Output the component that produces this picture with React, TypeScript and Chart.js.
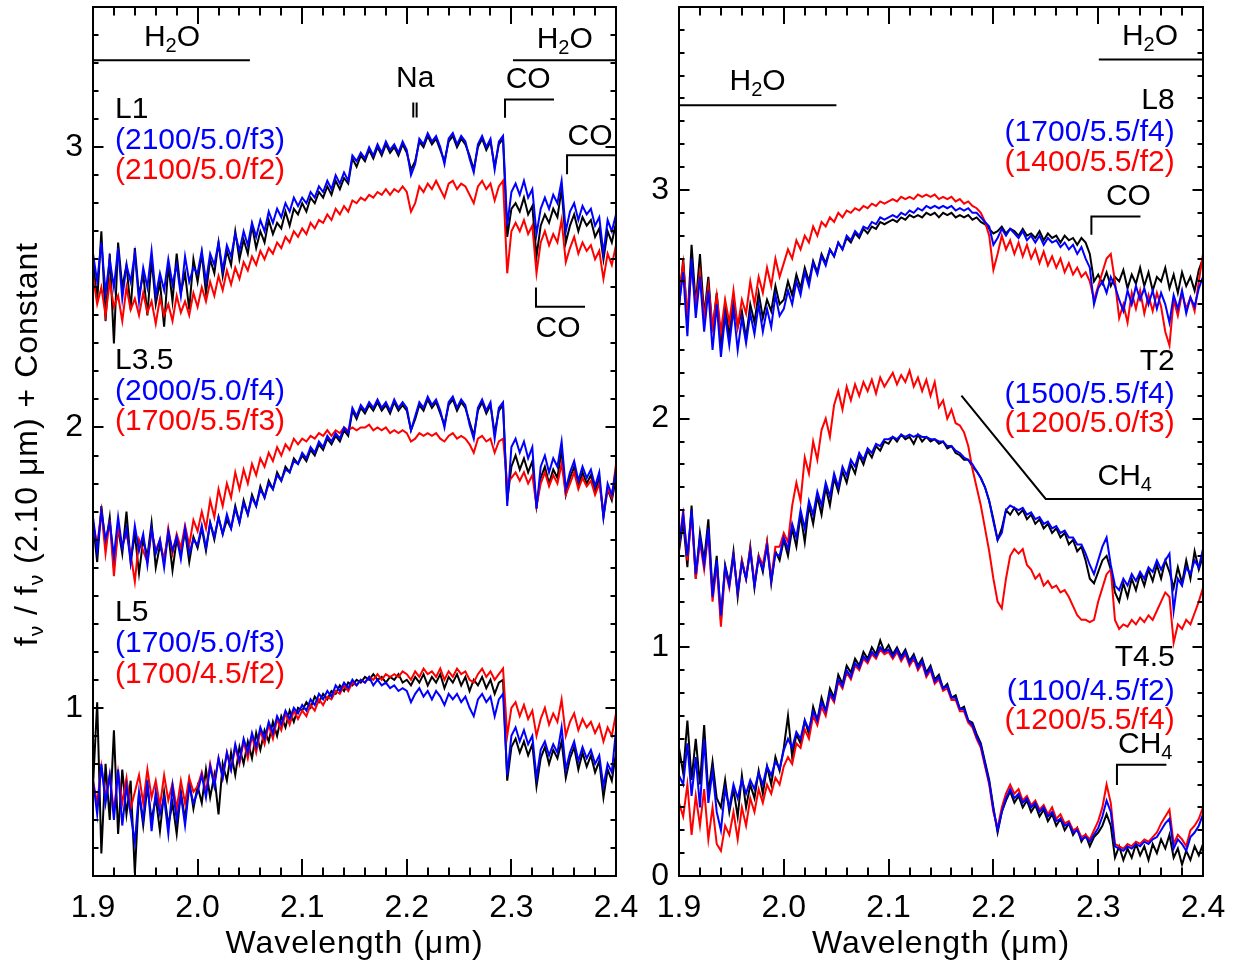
import React, { useEffect, useRef } from "react";
import { Chart, registerables } from "chart.js";
Chart.register(...registerables);

const FONT = "'Liberation Sans', Arial, Helvetica, sans-serif";
const BLACK = "#000000";
const BLUE = "#0000ff";
const RED = "#ff0000";

// Wavelength grid (µm)
const WL = [
  1.900, 1.904, 1.908, 1.912, 1.916, 1.920, 1.924, 1.928, 1.932, 1.936, 1.940, 1.944, 1.948, 1.952, 1.956, 1.960, 1.964, 1.968, 1.972, 1.976, 1.980, 1.984, 1.988, 1.992, 1.996,
  2.000, 2.004, 2.008, 2.012, 2.016, 2.020, 2.024, 2.028, 2.032, 2.036, 2.040, 2.044, 2.048, 2.052, 2.056, 2.060, 2.064, 2.068, 2.072, 2.076, 2.080, 2.084, 2.088, 2.092, 2.096,
  2.100, 2.104, 2.108, 2.112, 2.116, 2.120, 2.124, 2.128, 2.132, 2.136, 2.140, 2.144, 2.148, 2.152, 2.156, 2.160, 2.164, 2.168, 2.172, 2.176, 2.180, 2.184, 2.188, 2.192, 2.196,
  2.200, 2.204, 2.208, 2.212, 2.216, 2.220, 2.224, 2.228, 2.232, 2.236, 2.240, 2.244, 2.248, 2.252, 2.256, 2.260, 2.264, 2.268, 2.272, 2.276, 2.280, 2.284, 2.288, 2.292, 2.296,
  2.300, 2.304, 2.308, 2.312, 2.316, 2.320, 2.324, 2.328, 2.332, 2.336, 2.340, 2.344, 2.348, 2.352, 2.356, 2.360, 2.364, 2.368, 2.372, 2.376, 2.380, 2.384, 2.388, 2.392, 2.396, 2.400,
];

// ---------- Left panel: L1 ----------
const L1_OBS = [
  2.60, 2.45, 2.70, 2.38, 2.62, 2.30, 2.66, 2.50, 2.58, 2.42, 2.64, 2.47, 2.55, 2.40, 2.60, 2.44, 2.52, 2.36, 2.58, 2.45, 2.62, 2.48, 2.55, 2.42, 2.60,
  2.52, 2.62, 2.48, 2.60, 2.55, 2.66, 2.54, 2.63, 2.58, 2.70, 2.60, 2.67, 2.62, 2.72, 2.64, 2.70, 2.66, 2.74, 2.69, 2.73, 2.71, 2.77, 2.72, 2.78, 2.76,
  2.80, 2.77, 2.82, 2.80, 2.84, 2.82, 2.86, 2.83, 2.88, 2.85, 2.89, 2.87, 2.96, 2.93, 2.97, 2.95, 2.99, 2.96, 3.00, 2.97, 3.01, 2.98, 3.00, 2.97, 3.01,
  2.98, 2.92, 2.95, 3.02, 3.00, 3.04, 3.01, 3.03, 2.99, 2.95, 3.02, 3.04, 3.00, 3.03, 3.01, 2.97, 2.92, 3.00, 3.03, 2.99, 3.02, 2.93, 3.01, 3.03, 2.68,
  2.78, 2.80, 2.77, 2.82, 2.76, 2.79, 2.61, 2.72, 2.76, 2.73, 2.78, 2.75, 2.85, 2.66, 2.72, 2.76, 2.70, 2.75, 2.72, 2.74, 2.68, 2.71, 2.60, 2.70, 2.66, 2.73,
];
const L1_BLUE = [
  2.62, 2.52, 2.66, 2.48, 2.60, 2.50, 2.64, 2.46, 2.58, 2.52, 2.62, 2.45, 2.57, 2.50, 2.63, 2.47, 2.55, 2.49, 2.60, 2.51, 2.58, 2.47, 2.61, 2.52, 2.57,
  2.55, 2.63, 2.52, 2.62, 2.58, 2.66, 2.56, 2.65, 2.61, 2.69, 2.63, 2.70, 2.65, 2.73, 2.68, 2.74, 2.70, 2.77, 2.73, 2.78, 2.75, 2.80, 2.77, 2.82, 2.79,
  2.82, 2.80, 2.84, 2.82, 2.86, 2.84, 2.88, 2.85, 2.90, 2.87, 2.91, 2.88, 2.97, 2.95, 2.98, 2.96, 3.00, 2.97, 3.01, 2.98, 3.02, 2.99, 3.01, 2.98, 3.02,
  2.99, 2.90, 2.94, 3.03, 3.01, 3.05, 3.02, 3.04, 3.00, 2.94, 3.03, 3.05, 3.01, 3.04, 3.02, 2.96, 2.91, 3.01, 3.04, 3.00, 3.03, 2.92, 3.02, 3.04, 2.72,
  2.84, 2.87, 2.83, 2.88, 2.82, 2.85, 2.69, 2.78, 2.82, 2.78, 2.83, 2.80, 2.88, 2.70, 2.77, 2.80, 2.74, 2.79, 2.76, 2.78, 2.72, 2.75, 2.62, 2.74, 2.70, 2.76,
];
const L1_RED = [
  2.54, 2.44, 2.50, 2.40, 2.52, 2.43, 2.47, 2.38, 2.50, 2.42, 2.46, 2.40, 2.48, 2.41, 2.45, 2.37, 2.46, 2.40, 2.44, 2.38, 2.47, 2.41, 2.45, 2.40, 2.48,
  2.43, 2.50, 2.45, 2.52, 2.47, 2.54, 2.49, 2.56, 2.51, 2.57, 2.53, 2.59, 2.56, 2.61, 2.58, 2.63, 2.60, 2.64, 2.62, 2.66, 2.64, 2.68, 2.66, 2.70, 2.68,
  2.71, 2.69, 2.73, 2.71, 2.74, 2.73, 2.76, 2.74, 2.78, 2.76, 2.79, 2.77, 2.81, 2.80, 2.82, 2.81, 2.83, 2.82, 2.84, 2.83, 2.85, 2.83, 2.85, 2.84, 2.86,
  2.84, 2.77, 2.80, 2.86, 2.84, 2.87, 2.85, 2.88, 2.85, 2.82, 2.87, 2.88, 2.85, 2.87, 2.86, 2.83, 2.80, 2.86, 2.88, 2.85, 2.87, 2.81, 2.86, 2.88, 2.55,
  2.70, 2.73, 2.70, 2.74, 2.69, 2.72, 2.55, 2.66, 2.70, 2.65, 2.69, 2.66, 2.74, 2.59, 2.64, 2.68, 2.62, 2.66, 2.63, 2.65, 2.60, 2.63, 2.53, 2.62, 2.58, 2.65,
];

// ---------- Left panel: L3.5 ----------
const L35_OBS = [
  1.66, 1.52, 1.72, 1.58, 1.68, 1.50, 1.64, 1.55, 1.70, 1.52, 1.62, 1.48, 1.60, 1.54, 1.66, 1.50, 1.58, 1.53, 1.62, 1.49, 1.60, 1.55, 1.63, 1.52, 1.61,
  1.57, 1.64, 1.56, 1.66, 1.60, 1.68, 1.62, 1.67, 1.64, 1.72, 1.66, 1.74, 1.69, 1.76, 1.72, 1.79, 1.75, 1.81, 1.78, 1.84, 1.81, 1.86, 1.84, 1.89, 1.87,
  1.90, 1.88, 1.92, 1.90, 1.94, 1.92, 1.96, 1.94, 1.97, 1.95, 1.99, 1.97, 2.06, 2.03, 2.07, 2.05, 2.08, 2.06, 2.09, 2.06, 2.08, 2.05, 2.09, 2.06, 2.08,
  2.06, 1.99, 2.03, 2.08, 2.06, 2.10, 2.07, 2.09, 2.05, 2.01, 2.08, 2.10, 2.06, 2.09, 2.07, 2.02, 1.97, 2.06, 2.09, 2.05, 2.08, 1.98, 2.06, 2.08, 1.74,
  1.86, 1.90, 1.85, 1.89, 1.84, 1.88, 1.72, 1.82, 1.86, 1.80, 1.85, 1.82, 1.92, 1.76, 1.82, 1.86, 1.79, 1.84, 1.80, 1.83, 1.77, 1.82, 1.68, 1.78, 1.74, 1.82,
];
const L35_BLUE = [
  1.68, 1.56, 1.70, 1.60, 1.66, 1.54, 1.68, 1.57, 1.64, 1.52, 1.65, 1.56, 1.62, 1.51, 1.64, 1.55, 1.60, 1.50, 1.63, 1.56, 1.61, 1.53, 1.64, 1.55, 1.60,
  1.58, 1.65, 1.57, 1.66, 1.61, 1.68, 1.62, 1.69, 1.64, 1.71, 1.66, 1.73, 1.69, 1.75, 1.72, 1.78, 1.75, 1.80, 1.78, 1.83, 1.81, 1.85, 1.84, 1.88, 1.87,
  1.91, 1.89, 1.93, 1.91, 1.95, 1.93, 1.97, 1.95, 1.98, 1.96, 2.00, 1.98, 2.07, 2.04, 2.08, 2.06, 2.09, 2.07, 2.10, 2.07, 2.09, 2.06, 2.10, 2.07, 2.09,
  2.07, 1.99, 2.04, 2.09, 2.07, 2.11, 2.08, 2.10, 2.06, 2.00, 2.09, 2.11, 2.07, 2.10, 2.08, 2.01, 1.96, 2.07, 2.10, 2.06, 2.09, 1.96, 2.07, 2.09, 1.72,
  1.93, 1.96, 1.91, 1.95, 1.89, 1.93, 1.71, 1.86, 1.90, 1.84, 1.89, 1.86, 1.95, 1.78, 1.84, 1.88, 1.81, 1.86, 1.82, 1.85, 1.79, 1.84, 1.68, 1.80, 1.76, 1.85,
];
const L35_RED = [
  1.66, 1.58, 1.70, 1.55, 1.67, 1.47, 1.64, 1.58, 1.62, 1.55, 1.45, 1.60, 1.56, 1.52, 1.63, 1.56, 1.60, 1.52, 1.64, 1.55, 1.62, 1.57, 1.65, 1.58, 1.67,
  1.63, 1.70, 1.64, 1.74, 1.68, 1.78, 1.72, 1.80, 1.75, 1.84, 1.78, 1.85, 1.80, 1.87, 1.83, 1.89, 1.86, 1.91, 1.88, 1.93, 1.90, 1.94, 1.92, 1.96, 1.94,
  1.96, 1.95, 1.97, 1.96, 1.98, 1.97, 1.99, 1.97, 1.99, 1.98, 2.00, 1.99, 2.00, 1.99, 2.00, 2.00, 2.01, 1.99, 2.00, 1.99, 2.00, 1.98, 1.99, 1.98, 1.99,
  1.98, 1.95, 1.96, 1.98, 1.97, 1.98, 1.97, 1.98, 1.96, 1.95, 1.97, 1.98, 1.96, 1.97, 1.96, 1.94, 1.91, 1.96, 1.97, 1.95, 1.96, 1.91, 1.95, 1.96, 1.80,
  1.82, 1.84, 1.81, 1.84, 1.80, 1.83, 1.72, 1.80, 1.84, 1.79, 1.83, 1.80, 1.87, 1.76, 1.80, 1.84, 1.78, 1.82, 1.79, 1.81, 1.76, 1.80, 1.70, 1.78, 1.75, 1.87,
];

// ---------- Left panel: L5 ----------
const L5_OBS = [
  0.72, 1.02, 0.48, 0.80, 0.60, 0.92, 0.55, 0.78, 0.62, 0.74, 0.41, 0.70, 0.58, 0.72, 0.60, 0.68, 0.56, 0.70, 0.58, 0.66, 0.55, 0.70, 0.60, 0.74, 0.64,
  0.72, 0.66, 0.78, 0.68, 0.76, 0.62, 0.80, 0.74, 0.84, 0.76, 0.86, 0.80, 0.88, 0.82, 0.91, 0.85, 0.92, 0.88, 0.95, 0.90, 0.97, 0.93, 0.99, 0.95, 1.00,
  0.99, 1.02, 1.00, 1.04, 1.02, 1.05, 1.03, 1.06, 1.05, 1.08, 1.06, 1.09, 1.08, 1.10, 1.09, 1.11, 1.10, 1.12, 1.10, 1.11, 1.09, 1.11, 1.10, 1.12, 1.09,
  1.10, 1.08, 1.11, 1.09, 1.12, 1.08, 1.11, 1.09, 1.12, 1.07, 1.11, 1.09, 1.12, 1.08, 1.11, 1.06, 1.10, 1.08, 1.11, 1.07, 1.10, 1.05, 1.09, 1.10, 0.74,
  0.86, 0.89, 0.84, 0.88, 0.83, 0.87, 0.72, 0.82, 0.86, 0.80, 0.85, 0.82, 0.88, 0.75, 0.82, 0.86, 0.78, 0.84, 0.79, 0.83, 0.77, 0.81, 0.68, 0.78, 0.74, 0.84,
];
const L5_BLUE = [
  0.74, 0.62, 0.80, 0.66, 0.76, 0.60, 0.78, 0.58, 0.72, 0.62, 0.52, 0.70, 0.60, 0.74, 0.56, 0.70, 0.62, 0.68, 0.55, 0.72, 0.60, 0.69, 0.58, 0.72, 0.66,
  0.70, 0.76, 0.68, 0.79, 0.72, 0.82, 0.75, 0.84, 0.78, 0.87, 0.81, 0.89, 0.84, 0.91, 0.86, 0.93, 0.89, 0.95, 0.91, 0.97, 0.94, 0.99, 0.96, 1.00, 0.98,
  1.01, 0.99, 1.03, 1.01, 1.05, 1.03, 1.06, 1.04, 1.08, 1.06, 1.09, 1.07, 1.10, 1.08, 1.10, 1.09, 1.11, 1.08, 1.10, 1.08, 1.09, 1.07, 1.08, 1.06, 1.07,
  1.06, 1.02, 1.05, 1.07, 1.04, 1.06, 1.03, 1.06, 1.04, 1.01, 1.05, 1.03, 1.05, 1.02, 1.04, 1.00, 0.97, 1.03, 1.05, 1.02, 1.04, 0.97, 1.03, 1.05, 0.76,
  0.90, 0.93, 0.88, 0.92, 0.87, 0.90, 0.75, 0.85, 0.88, 0.83, 0.87, 0.84, 0.93, 0.78, 0.84, 0.88, 0.81, 0.86, 0.82, 0.85, 0.80, 0.83, 0.72, 0.80, 0.77, 0.92,
];
const L5_RED = [
  0.74, 0.66, 0.79, 0.68, 0.76, 0.63, 0.77, 0.66, 0.75, 0.64, 0.70, 0.76, 0.66, 0.78, 0.68, 0.74, 0.65, 0.76, 0.67, 0.73, 0.64, 0.74, 0.66, 0.75, 0.70,
  0.72, 0.77, 0.70, 0.80, 0.73, 0.82, 0.75, 0.84, 0.78, 0.86, 0.80, 0.88, 0.82, 0.90, 0.84, 0.92, 0.87, 0.94, 0.89, 0.96, 0.92, 0.98, 0.94, 0.99, 0.96,
  0.99, 0.97, 1.01, 0.99, 1.03, 1.01, 1.04, 1.03, 1.06, 1.05, 1.08, 1.06, 1.09, 1.08, 1.10, 1.09, 1.11, 1.10, 1.12, 1.10, 1.12, 1.11, 1.12, 1.11, 1.13,
  1.12, 1.10, 1.13, 1.11, 1.14, 1.12, 1.13, 1.11, 1.14, 1.10, 1.13, 1.11, 1.14, 1.12, 1.13, 1.10, 1.09, 1.12, 1.14, 1.11, 1.13, 1.10, 1.12, 1.14, 0.90,
  1.00, 1.02, 0.97, 1.01, 0.96, 0.99, 0.90, 0.96, 1.00, 0.94, 0.98, 0.95, 1.03, 0.90, 0.95, 0.98, 0.92, 0.96, 0.93, 0.95, 0.91, 0.94, 0.88, 0.93, 0.90, 0.98,
];

// ---------- Right panel: L8 ----------
const L8_OBS = [
  2.48, 2.70, 2.42, 2.76, 2.50, 2.72, 2.45, 2.62, 2.38, 2.55, 2.32, 2.50, 2.36, 2.52, 2.40, 2.47, 2.35, 2.50, 2.42, 2.55, 2.44, 2.52, 2.47, 2.58, 2.50,
  2.52, 2.60, 2.54, 2.63, 2.57, 2.66, 2.60, 2.69, 2.64, 2.72, 2.68, 2.74, 2.71, 2.77, 2.74, 2.79, 2.77, 2.81, 2.79, 2.83, 2.81, 2.84, 2.83, 2.86, 2.85,
  2.86, 2.87, 2.86, 2.88, 2.87, 2.89, 2.88, 2.89, 2.88, 2.90, 2.89, 2.90, 2.88, 2.90, 2.89, 2.90, 2.88, 2.89, 2.88, 2.89, 2.87, 2.88, 2.86, 2.85, 2.83,
  2.81, 2.82, 2.84, 2.81, 2.83, 2.82, 2.80, 2.83, 2.80, 2.81, 2.79, 2.82, 2.78, 2.81, 2.79, 2.80, 2.77, 2.80, 2.78, 2.79, 2.76, 2.79, 2.77, 2.72, 2.60,
  2.63, 2.59, 2.64, 2.58, 2.62, 2.60, 2.65, 2.57, 2.63, 2.59, 2.66, 2.58, 2.64, 2.56, 2.62, 2.60, 2.66, 2.57, 2.63, 2.55, 2.64, 2.58, 2.62, 2.56, 2.65, 2.70,
];
const L8_BLUE = [
  2.50, 2.64, 2.36, 2.70, 2.44, 2.62, 2.38, 2.56, 2.30, 2.50, 2.27, 2.45, 2.32, 2.48, 2.30, 2.44, 2.33, 2.46, 2.37, 2.50, 2.38, 2.48, 2.40, 2.54, 2.45,
  2.48, 2.56, 2.50, 2.60, 2.54, 2.64, 2.58, 2.68, 2.63, 2.71, 2.67, 2.74, 2.71, 2.77, 2.74, 2.80, 2.78, 2.82, 2.80, 2.84, 2.83, 2.86, 2.85, 2.88, 2.87,
  2.88, 2.89, 2.88, 2.90, 2.89, 2.91, 2.90, 2.92, 2.91, 2.93, 2.92, 2.93, 2.92, 2.93, 2.92, 2.93, 2.91, 2.92, 2.91, 2.92, 2.90, 2.90, 2.88, 2.86, 2.84,
  2.76, 2.79, 2.83, 2.80, 2.83, 2.81, 2.79, 2.82, 2.78, 2.80, 2.77, 2.80, 2.76, 2.79, 2.77, 2.78, 2.75, 2.77, 2.74, 2.76, 2.72, 2.75, 2.70, 2.66, 2.50,
  2.57, 2.60, 2.55, 2.62, 2.58, 2.52, 2.47, 2.56, 2.50, 2.58, 2.52, 2.57, 2.50, 2.56, 2.48, 2.55, 2.50, 2.42, 2.54, 2.48, 2.56, 2.46, 2.53, 2.49, 2.57, 2.62,
];
const L8_RED = [
  2.55, 2.68, 2.45, 2.66, 2.50, 2.64, 2.44, 2.58, 2.40, 2.54, 2.38, 2.52, 2.42, 2.56, 2.40, 2.52, 2.46, 2.60, 2.50, 2.62, 2.55, 2.66, 2.58, 2.70, 2.62,
  2.68, 2.74, 2.70, 2.78, 2.74, 2.80, 2.77, 2.84, 2.80, 2.86, 2.84, 2.88, 2.86, 2.90, 2.88, 2.91, 2.90, 2.92, 2.91, 2.93, 2.92, 2.94, 2.93, 2.95, 2.94,
  2.95, 2.96, 2.95, 2.97, 2.96, 2.97, 2.96, 2.98, 2.97, 2.98, 2.97, 2.98, 2.96, 2.97, 2.96, 2.97, 2.95, 2.96, 2.94, 2.95, 2.93, 2.92, 2.90, 2.86, 2.80,
  2.65, 2.72, 2.80, 2.74, 2.78, 2.72, 2.77, 2.71, 2.76, 2.70, 2.74, 2.68, 2.73, 2.67, 2.71, 2.66, 2.70, 2.64, 2.68, 2.63, 2.66, 2.62, 2.64, 2.60, 2.52,
  2.58, 2.64, 2.70, 2.72, 2.60, 2.44, 2.50, 2.42, 2.55, 2.48, 2.56, 2.46, 2.54, 2.47, 2.55, 2.49, 2.38, 2.32, 2.52, 2.45, 2.55, 2.48, 2.53, 2.47, 2.60, 2.72,
];

// ---------- Right panel: T2 ----------
const T2_OBS = [
  1.42, 1.55, 1.35, 1.62, 1.30, 1.50, 1.38, 1.56, 1.24, 1.40, 1.12, 1.36, 1.28, 1.42, 1.22, 1.38, 1.30, 1.44, 1.26, 1.40, 1.33, 1.46, 1.28, 1.42, 1.38,
  1.47, 1.40, 1.52, 1.44, 1.58, 1.46, 1.62, 1.54, 1.66, 1.58, 1.70, 1.62, 1.74, 1.68, 1.77, 1.72, 1.80, 1.76, 1.84, 1.80, 1.86, 1.83, 1.88, 1.86, 1.90,
  1.89, 1.92, 1.90, 1.93, 1.91, 1.92, 1.89, 1.93, 1.90, 1.92, 1.90, 1.91, 1.89, 1.90, 1.87, 1.88, 1.85, 1.84, 1.82, 1.82, 1.79, 1.77, 1.74, 1.70, 1.64,
  1.56, 1.47, 1.52, 1.60, 1.58, 1.61, 1.58, 1.60, 1.56, 1.58, 1.54, 1.56, 1.52, 1.54, 1.50, 1.52, 1.48, 1.50, 1.45, 1.47, 1.42, 1.44, 1.38, 1.30, 1.28,
  1.33, 1.38, 1.40, 1.34, 1.24, 1.20, 1.28, 1.22, 1.30, 1.25, 1.32, 1.27, 1.34, 1.29, 1.36, 1.30, 1.38, 1.33, 1.26, 1.35, 1.28, 1.38, 1.30, 1.42, 1.34, 1.40,
];
const T2_BLUE = [
  1.45, 1.58, 1.40, 1.60, 1.32, 1.48, 1.36, 1.52, 1.22, 1.38, 1.14, 1.35, 1.27, 1.40, 1.24, 1.37, 1.30, 1.42, 1.27, 1.39, 1.34, 1.44, 1.29, 1.41, 1.40,
  1.48, 1.43, 1.54, 1.48, 1.60, 1.52, 1.64, 1.58, 1.68, 1.62, 1.72, 1.66, 1.76, 1.70, 1.79, 1.75, 1.82, 1.79, 1.85, 1.82, 1.87, 1.85, 1.89, 1.88, 1.91,
  1.91, 1.92, 1.91, 1.93, 1.92, 1.93, 1.92, 1.93, 1.92, 1.92, 1.91, 1.91, 1.90, 1.90, 1.88, 1.88, 1.86, 1.85, 1.83, 1.82, 1.80, 1.77, 1.74, 1.70, 1.64,
  1.55, 1.47, 1.50, 1.60, 1.62, 1.61, 1.60, 1.61, 1.58, 1.59, 1.56, 1.57, 1.54, 1.55, 1.52, 1.53, 1.50, 1.51, 1.48, 1.48, 1.45, 1.45, 1.41, 1.36, 1.32,
  1.38, 1.44, 1.48, 1.36, 1.27, 1.25, 1.30, 1.27, 1.32, 1.29, 1.33, 1.30, 1.35, 1.33, 1.38, 1.34, 1.38, 1.41, 1.16, 1.30, 1.27, 1.35, 1.32, 1.38, 1.35, 1.43,
];
const T2_RED = [
  1.44, 1.60, 1.38, 1.58, 1.30, 1.46, 1.34, 1.50, 1.20, 1.36, 1.09, 1.34, 1.26, 1.40, 1.24, 1.38, 1.30, 1.43, 1.28, 1.40, 1.36, 1.46, 1.30, 1.44, 1.44,
  1.50, 1.46, 1.62, 1.72, 1.64, 1.83, 1.76, 1.90, 1.82, 1.95, 2.00, 1.92, 2.06, 2.12, 2.04, 2.14, 2.08, 2.15, 2.10, 2.16, 2.12, 2.17, 2.11, 2.18, 2.14,
  2.17, 2.20, 2.15, 2.19, 2.16, 2.21, 2.14, 2.18, 2.12, 2.17, 2.10, 2.16, 2.05, 2.08, 2.00, 2.04, 1.98, 1.97, 1.94, 1.88, 1.78, 1.70, 1.62, 1.52, 1.42,
  1.30, 1.20, 1.17, 1.30, 1.40, 1.43, 1.41, 1.43, 1.36, 1.34, 1.30, 1.32, 1.27, 1.29, 1.26, 1.27, 1.24, 1.25, 1.22, 1.18, 1.14, 1.12, 1.12, 1.11, 1.12,
  1.20, 1.26, 1.32, 1.34, 1.12, 1.08, 1.10, 1.09, 1.12, 1.10, 1.13, 1.11, 1.14, 1.12, 1.16, 1.20, 1.24, 1.22, 1.02, 1.10, 1.08, 1.12, 1.10, 1.15, 1.20, 1.26,
];

// ---------- Right panel: T4.5 ----------
const T45_OBS = [
  0.56, 0.45, 0.68, 0.42, 0.60, 0.40, 0.66, 0.36, 0.50, 0.34, 0.30, 0.42, 0.28, 0.38, 0.26, 0.44, 0.30, 0.40, 0.34, 0.46, 0.36, 0.48, 0.40, 0.52, 0.46,
  0.56, 0.70, 0.52, 0.62, 0.58, 0.68, 0.62, 0.74, 0.68, 0.78, 0.72, 0.82, 0.78, 0.88, 0.84, 0.92, 0.89, 0.95, 0.92, 0.98, 0.95, 1.00, 0.97, 1.03, 0.98,
  1.01, 0.97, 1.00, 0.96, 0.99, 0.94, 0.97, 0.92, 0.95, 0.89, 0.92, 0.86, 0.88, 0.82, 0.84, 0.78, 0.79, 0.73, 0.74, 0.68, 0.67, 0.62, 0.58, 0.50, 0.42,
  0.30, 0.19, 0.28, 0.33, 0.37, 0.32, 0.35, 0.30, 0.33, 0.28, 0.31, 0.26, 0.29, 0.24, 0.27, 0.22, 0.25, 0.20, 0.23, 0.18, 0.21, 0.15, 0.18, 0.13, 0.17,
  0.19, 0.22, 0.27, 0.22, 0.08, 0.13, 0.07, 0.12, 0.08, 0.14, 0.09, 0.13, 0.07, 0.14, 0.10, 0.16, 0.12, 0.18, 0.08, 0.12, 0.05, 0.11, 0.07, 0.13, 0.09, 0.14,
];
const T45_BLUE = [
  0.44, 0.40, 0.58, 0.35, 0.52, 0.30, 0.60, 0.32, 0.46, 0.28, 0.20, 0.38, 0.30, 0.40, 0.34, 0.42, 0.36, 0.42, 0.38, 0.45, 0.40, 0.48, 0.44, 0.50, 0.47,
  0.55, 0.60, 0.56, 0.63, 0.60, 0.68, 0.64, 0.72, 0.68, 0.76, 0.72, 0.80, 0.77, 0.86, 0.83, 0.90, 0.87, 0.93, 0.91, 0.96, 0.94, 0.98, 0.96, 1.00, 0.98,
  0.99, 0.96, 0.99, 0.95, 0.98, 0.93, 0.96, 0.91, 0.94, 0.88, 0.91, 0.85, 0.87, 0.82, 0.83, 0.78, 0.78, 0.73, 0.73, 0.68, 0.66, 0.61, 0.57, 0.49, 0.41,
  0.29, 0.20, 0.28, 0.34, 0.38, 0.34, 0.36, 0.32, 0.34, 0.30, 0.32, 0.28, 0.30, 0.26, 0.28, 0.24, 0.25, 0.22, 0.23, 0.19, 0.20, 0.16, 0.17, 0.15, 0.18,
  0.21, 0.26, 0.33, 0.28, 0.13, 0.12, 0.11, 0.13, 0.12, 0.14, 0.13, 0.15, 0.14, 0.16, 0.17, 0.20, 0.23, 0.25, 0.12, 0.16, 0.14, 0.11, 0.17, 0.19, 0.22, 0.27,
];
const T45_RED = [
  0.32, 0.26, 0.40, 0.18, 0.35, 0.22, 0.38, 0.16, 0.30, 0.14, 0.11, 0.22, 0.18, 0.28, 0.16, 0.30, 0.22, 0.34, 0.28, 0.38, 0.32, 0.40, 0.36, 0.43, 0.40,
  0.48, 0.52, 0.49, 0.58, 0.56, 0.64, 0.60, 0.70, 0.66, 0.74, 0.70, 0.79, 0.76, 0.85, 0.82, 0.89, 0.86, 0.92, 0.90, 0.95, 0.93, 0.97, 0.95, 0.99, 0.97,
  0.98, 0.95, 0.98, 0.94, 0.97, 0.92, 0.95, 0.90, 0.93, 0.87, 0.90, 0.84, 0.86, 0.81, 0.82, 0.77, 0.77, 0.72, 0.72, 0.67, 0.65, 0.60, 0.56, 0.48, 0.40,
  0.28, 0.21, 0.30, 0.36, 0.40, 0.36, 0.38, 0.33, 0.35, 0.31, 0.33, 0.29, 0.31, 0.27, 0.30, 0.25, 0.27, 0.23, 0.24, 0.20, 0.21, 0.17, 0.18, 0.16, 0.20,
  0.24, 0.30, 0.40, 0.32, 0.14, 0.13, 0.12, 0.14, 0.13, 0.15, 0.14, 0.16, 0.15, 0.17, 0.19, 0.23, 0.26, 0.29, 0.14, 0.18, 0.16, 0.13, 0.20, 0.22, 0.25, 0.30,
];

// ---------- Axes ----------
const X_TICKS = [1.9, 2.0, 2.1, 2.2, 2.3, 2.4];
const LEFT_Y_TICKS = [1, 2, 3];
const RIGHT_Y_TICKS = [0, 1, 2, 3];
const X_TITLE = "Wavelength (μm)";
const Y_TITLE = "f_ν / f_ν (2.10 μm) + Constant";

// ---------- Annotations (data coordinates) ----------
const LEFT_NOTES = [
  { text: "H_2O", x: 1.9755, y: 3.392, color: BLACK, align: "center" },
  { text: "Na", x: 2.208, y: 3.245, color: BLACK, align: "center" },
  { text: "H_2O", x: 2.351, y: 3.385, color: BLACK, align: "center" },
  { text: "CO", x: 2.316, y: 3.242, color: BLACK, align: "center" },
  { text: "CO", x: 2.3752, y: 3.038, color: BLACK, align: "center" },
  { text: "CO", x: 2.3446, y: 2.352, color: BLACK, align: "center" },
  { text: "L1", x: 1.921, y: 3.135, color: BLACK, align: "left" },
  { text: "(2100/5.0/f3)", x: 1.921, y: 3.024, color: BLUE, align: "left" },
  { text: "(2100/5.0/f2)", x: 1.921, y: 2.917, color: RED, align: "left" },
  { text: "L3.5", x: 1.921, y: 2.237, color: BLACK, align: "left" },
  { text: "(2000/5.0/f4)", x: 1.921, y: 2.126, color: BLUE, align: "left" },
  { text: "(1700/5.5/f3)", x: 1.921, y: 2.019, color: RED, align: "left" },
  { text: "L5", x: 1.921, y: 1.338, color: BLACK, align: "left" },
  { text: "(1700/5.0/f3)", x: 1.921, y: 1.227, color: BLUE, align: "left" },
  { text: "(1700/4.5/f2)", x: 1.921, y: 1.117, color: RED, align: "left" },
];
const LEFT_MARKS = [
  [[1.9, 3.31], [2.05, 3.31]],
  [[2.3015, 3.31], [2.4, 3.31]],
  [[2.2062, 3.106], [2.2062, 3.159]],
  [[2.2094, 3.106], [2.2094, 3.159]],
  [[2.2939, 3.105], [2.2939, 3.17], [2.3407, 3.17]],
  [[2.3532, 2.903], [2.3532, 2.971], [2.4, 2.971]],
  [[2.3235, 2.499], [2.3235, 2.431], [2.3704, 2.431]],
];
const RIGHT_NOTES = [
  { text: "H_2O", x: 2.3494, y: 3.67, color: BLACK, align: "center" },
  { text: "H_2O", x: 1.975, y: 3.473, color: BLACK, align: "center" },
  { text: "L8", x: 2.373, y: 3.388, color: BLACK, align: "right" },
  { text: "(1700/5.5/f4)", x: 2.373, y: 3.25, color: BLUE, align: "right" },
  { text: "(1400/5.5/f2)", x: 2.373, y: 3.119, color: RED, align: "right" },
  { text: "CO", x: 2.3288, y: 2.97, color: BLACK, align: "center" },
  { text: "T2", x: 2.373, y: 2.248, color: BLACK, align: "right" },
  { text: "(1500/5.5/f4)", x: 2.373, y: 2.104, color: BLUE, align: "right" },
  { text: "(1200/5.0/f3)", x: 2.373, y: 1.977, color: RED, align: "right" },
  { text: "CH_4", x: 2.3253, y: 1.745, color: BLACK, align: "center" },
  { text: "T4.5", x: 2.373, y: 0.954, color: BLACK, align: "right" },
  { text: "(1100/4.5/f2)", x: 2.373, y: 0.805, color: BLUE, align: "right" },
  { text: "(1200/5.5/f4)", x: 2.373, y: 0.678, color: RED, align: "right" },
  { text: "CH_4", x: 2.3449, y: 0.573, color: BLACK, align: "center" },
];
const RIGHT_MARKS = [
  [[2.3006, 3.57], [2.4, 3.57]],
  [[1.9, 3.37], [2.0502, 3.37]],
  [[2.2935, 2.804], [2.2935, 2.884], [2.3403, 2.884]],
  [[2.1695, 2.101], [2.2499, 1.649], [2.4, 1.649]],
  [[2.3179, 0.398], [2.3179, 0.486], [2.3651, 0.486]],
];

function drawRich(ctx, text, x, y, align, color, size, spacing = 0) {
  const parts = [];
  for (let i = 0; i < text.length; i++) {
    if (text[i] === "_" && i + 1 < text.length) {
      parts.push({ s: text[i + 1], sub: true });
      i++;
    } else {
      const last = parts[parts.length - 1];
      if (last && !last.sub) last.s += text[i];
      else parts.push({ s: text[i], sub: false });
    }
  }
  const subSize = Math.round(size * 0.66);
  ctx.save();
  ctx.letterSpacing = spacing + "px";
  let total = 0;
  const widths = parts.map((p) => {
    ctx.font = `${p.sub ? subSize : size}px ${FONT}`;
    const w = ctx.measureText(p.s).width;
    total += w;
    return w;
  });
  let cx = align === "left" ? x : align === "right" ? x - total : x - total / 2;
  ctx.fillStyle = color;
  ctx.textBaseline = "middle";
  ctx.textAlign = "left";
  parts.forEach((p, i) => {
    ctx.font = `${p.sub ? subSize : size}px ${FONT}`;
    ctx.fillText(p.s, cx, p.sub ? y + size * 0.3 : y);
    cx += widths[i];
  });
  ctx.restore();
}

function makePanel(canvas, cfg) {
  const framePlugin = {
    id: "frame",
    afterDatasetsDraw(chart) {
      const { ctx, chartArea } = chart;
      const { left, right, top, bottom } = chartArea;
      const xs = chart.scales.x;
      const ys = chart.scales.y;
      ctx.save();
      ctx.strokeStyle = BLACK;
      ctx.lineWidth = 2;
      ctx.lineCap = "butt";
      ctx.strokeRect(left, top, right - left, bottom - top);
      ctx.beginPath();
      for (let k = 0; k <= 25; k++) {
        const v = 1.9 + 0.02 * k;
        const px = Math.round(xs.getPixelForValue(v));
        const len = k % 5 === 0 ? 17 : 8.5;
        ctx.moveTo(px, bottom);
        ctx.lineTo(px, bottom - len);
        ctx.moveTo(px, top);
        ctx.lineTo(px, top + len);
      }
      const k0 = Math.ceil(cfg.yMin * 10 - 1e-6);
      const k1 = Math.floor(cfg.yMax * 10 + 1e-6);
      for (let k = k0; k <= k1; k++) {
        const py = Math.round(ys.getPixelForValue(k / 10));
        const len = k % 10 === 0 ? 10.5 : 5.5;
        ctx.moveTo(left, py);
        ctx.lineTo(left + len, py);
        ctx.moveTo(right, py);
        ctx.lineTo(right - len, py);
      }
      ctx.stroke();

      // annotation lines
      ctx.beginPath();
      cfg.marks.forEach((poly) => {
        poly.forEach((pt, i) => {
          const px = xs.getPixelForValue(pt[0]);
          const py = ys.getPixelForValue(pt[1]);
          if (i === 0) ctx.moveTo(px, py);
          else ctx.lineTo(px, py);
        });
      });
      ctx.stroke();
      ctx.restore();

      // annotation texts
      cfg.notes.forEach((n) => {
        drawRich(ctx, n.text, xs.getPixelForValue(n.x), ys.getPixelForValue(n.y), n.align, n.color, 30);
      });

      // axis titles
      drawRich(ctx, X_TITLE, (left + right) / 2, 944, "center", BLACK, 32, 1);
      if (cfg.yTitle) {
        ctx.save();
        ctx.translate(28, 444);
        ctx.rotate(-Math.PI / 2);
        drawRich(ctx, cfg.yTitle, 0, 0, "center", BLACK, 32, 1);
        ctx.restore();
      }
    },
  };

  const datasets = cfg.series.map((s) => ({
    data: WL.map((x, i) => ({ x, y: s.values[i] })),
    borderColor: s.color,
    backgroundColor: s.color,
    borderWidth: 2,
    pointRadius: 0,
    fill: false,
    tension: 0,
  }));

  const tickFont = { family: FONT, size: 32 };

  return new Chart(canvas, {
    type: "line",
    data: { datasets },
    options: {
      animation: false,
      responsive: false,
      maintainAspectRatio: false,
      parsing: false,
      normalized: true,
      events: [],
      layout: { padding: { left: 0, top: 7, right: cfg.padRight, bottom: 0 } },
      plugins: { legend: { display: false }, tooltip: { enabled: false }, title: { display: false } },
      scales: {
        x: {
          type: "linear",
          min: 1.9,
          max: 2.4,
          grid: { display: false, drawTicks: false },
          border: { display: false },
          afterBuildTicks: (s) => {
            s.ticks = X_TICKS.map((v) => ({ value: v }));
          },
          afterFit: (s) => {
            s.height = 94;
            s.paddingLeft = 0;
            s.paddingRight = 0;
          },
          ticks: {
            autoSkip: false,
            maxRotation: 0,
            minRotation: 0,
            color: BLACK,
            font: tickFont,
            padding: 13,
            callback: (v) => Number(v).toFixed(1),
          },
        },
        y: {
          type: "linear",
          min: cfg.yMin,
          max: cfg.yMax,
          grid: { display: false, drawTicks: false },
          border: { display: false },
          afterBuildTicks: (s) => {
            s.ticks = cfg.yTicks.map((v) => ({ value: v }));
          },
          afterFit: (s) => {
            s.width = cfg.yWidth;
            s.paddingTop = 0;
            s.paddingBottom = 0;
          },
          ticks: {
            autoSkip: false,
            color: BLACK,
            font: tickFont,
            padding: 10,
            callback: (v) => String(v),
          },
        },
      },
    },
    plugins: [framePlugin],
  });
}

const LEFT_CFG = {
  series: [
    { values: L1_BLUE, color: BLUE }, { values: L1_RED, color: RED }, { values: L1_OBS, color: BLACK },
    { values: L35_BLUE, color: BLUE }, { values: L35_RED, color: RED }, { values: L35_OBS, color: BLACK },
    { values: L5_BLUE, color: BLUE }, { values: L5_RED, color: RED }, { values: L5_OBS, color: BLACK },
  ],
  yMin: 0.4,
  yMax: 3.5,
  yTicks: LEFT_Y_TICKS,
  yWidth: 93,
  padRight: 34,
  notes: LEFT_NOTES,
  marks: LEFT_MARKS,
  yTitle: Y_TITLE,
};

const RIGHT_CFG = {
  series: [
    { values: L8_BLUE, color: BLUE }, { values: L8_RED, color: RED }, { values: L8_OBS, color: BLACK },
    { values: T2_BLUE, color: BLUE }, { values: T2_RED, color: RED }, { values: T2_OBS, color: BLACK },
    { values: T45_BLUE, color: BLUE }, { values: T45_RED, color: RED }, { values: T45_OBS, color: BLACK },
  ],
  yMin: 0,
  yMax: 3.8,
  yTicks: RIGHT_Y_TICKS,
  yWidth: 89,
  padRight: 38,
  notes: RIGHT_NOTES,
  marks: RIGHT_MARKS,
  yTitle: null,
};

export default function App() {
  const leftRef = useRef(null);
  const rightRef = useRef(null);
  useEffect(() => {
    const a = makePanel(leftRef.current, LEFT_CFG);
    const b = makePanel(rightRef.current, RIGHT_CFG);
    return () => {
      a.destroy();
      b.destroy();
    };
  }, []);
  return (
    <div style={{ position: "absolute", left: 0, top: 0, width: 1241, height: 970, background: "#ffffff", overflow: "hidden" }}>
      <canvas ref={leftRef} width={650} height={970} style={{ position: "absolute", left: 0, top: 0, width: 650, height: 970 }} />
      <canvas ref={rightRef} width={651} height={970} style={{ position: "absolute", left: 590, top: 0, width: 651, height: 970 }} />
    </div>
  );
}
